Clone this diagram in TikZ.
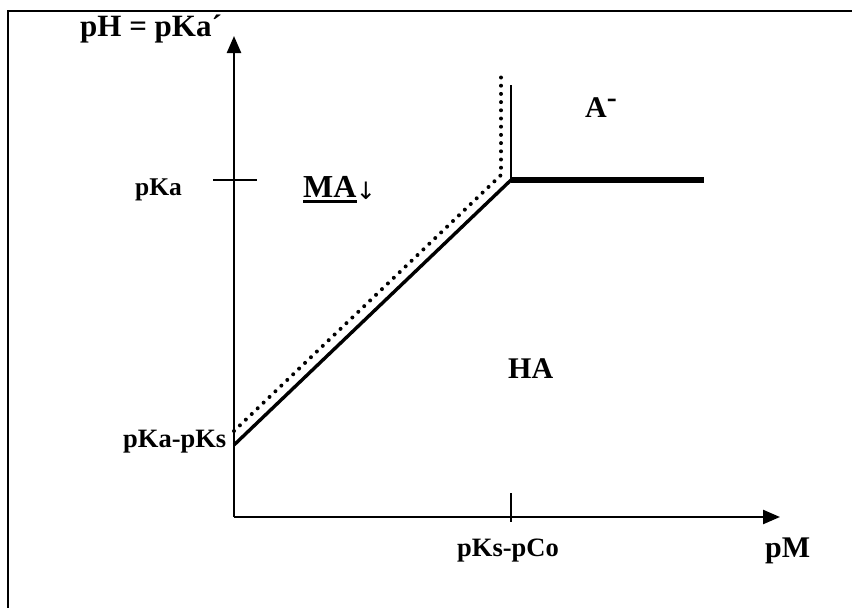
\documentclass[tikz,border=0pt]{standalone}
\usepackage{fontspec}
\setmainfont{Liberation Serif}
\newfontfamily\symfont{DejaVu Sans}
\usetikzlibrary{arrows.meta}
\tikzset{
  axis/.style={line width=2.4pt,-{Triangle[length=17pt,width=14pt]}},
  thinline/.style={line width=2.2pt},
  diagline/.style={line width=3.4pt},
  boldline/.style={line width=6pt},
  dotline/.style={line width=4pt,line cap=round,dash pattern=on 0pt off 8.2pt},
  biglab/.style={font=\fontsize{30}{32}\selectfont\bfseries,inner sep=0pt,anchor=base west},
  smalllab/.style={font=\fontsize{25.5}{28}\selectfont\bfseries,inner sep=0pt,anchor=base west},
}
\begin{document}
\begin{tikzpicture}[x=1pt,y=-1pt]
\useasboundingbox (0,0) rectangle (852,608);
% frame
\draw[line width=2.4pt] (8,620) -- (8,11) -- (870,11);
% coordinates
\coordinate (O) at (234,517);
\coordinate (ytip) at (234,36);
\coordinate (xtip) at (780,517);
\coordinate (p0) at (234,445);
\coordinate (corner) at (511,180);
\coordinate (hend) at (704,180);
\coordinate (vtop) at (511,85);
\coordinate (d0) at (234,431);
\coordinate (dcorner) at (501,175);
\coordinate (dtop) at (501,71);
\coordinate (ta) at (213,180);
\coordinate (tb) at (257,180);
\coordinate (tc) at (511,493);
\coordinate (td) at (511,522);
% axes
\draw[axis] (O) -- (ytip);
\draw[axis] (O) -- (xtip);
\draw[thinline] (ta) -- (tb);
\draw[thinline] (tc) -- (td);
% lines
\draw[dotline] (d0) -- (dcorner) -- (dtop);
\draw[diagline] (p0) -- (corner);
\draw[boldline] (corner) -- (hend);
\draw[thinline] (vtop) -- (corner);
% labels
\node[biglab,font=\fontsize{31}{33}\selectfont\bfseries] (ylab) at (80,36) {pH = pKa\char"00B4};
\node[smalllab] (pka) at (135,195) {pKa};
\node[biglab,font=\fontsize{32}{34}\selectfont\bfseries] (ma) at (303,197) {MA};
\draw[line width=3pt] ([yshift=-4.5pt]ma.base west) -- ([yshift=-4.5pt]ma.base east);
\node[inner sep=0pt,anchor=base west,font=\symfont\fontsize{24}{26}\selectfont] (arr) at ([xshift=-1pt,yshift=-2pt]ma.base east) {↓};
\node[biglab] (aminus) at (585,117) {A$^{\textbf{-}}$};
\node[biglab] (ha) at (508,378) {HA};
\node[smalllab,font=\fontsize{26.5}{28}\selectfont\bfseries] (pkapks) at (123,447) {pKa-pKs};
\node[smalllab,font=\fontsize{26.5}{28}\selectfont\bfseries] (pkspco) at (457,556) {pKs-pCo};
\node[biglab] (pm) at (765,557) {pM};
\end{tikzpicture}
\end{document}
